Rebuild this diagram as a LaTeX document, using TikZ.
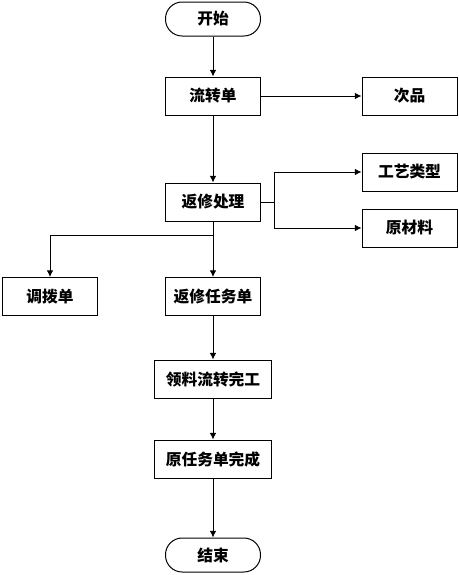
\documentclass[tikz,border=0pt]{standalone}
\usepackage{fontspec}
\setmainfont{Noto Sans CJK SC}
\usetikzlibrary{arrows.meta}
\begin{document}
\begin{tikzpicture}[x=0.75pt,y=-0.75pt,
  every node/.style={font=\fontsize{11.8pt}{13pt}\selectfont\bfseries, inner sep=0pt},
  box/.style={draw, line width=0.75pt, rectangle, minimum width=71.25pt, minimum height=28.5pt},
  wbox/.style={box, minimum width=87.75pt},
  term/.style={draw, line width=0.75pt, rectangle, rounded corners=12.5pt, minimum width=71.25pt, minimum height=25.5pt},
  conn/.style={line width=0.75pt, -{Latex[length=5pt,width=5pt]}},
  line/.style={line width=0.75pt}]
\useasboundingbox (0,0) rectangle (459,575);
\node[term] (start) at (213,19) {开始};
\node[box] (lzd) at (213,96) {流转单};
\node[box] (cp) at (409.5,96) {次品};
\node[box] (fxcl) at (213,202) {返修处理};
\node[box] (gylx) at (409.5,172) {工艺类型};
\node[box] (ycl) at (409.5,228) {原材料};
\node[box] (dbd) at (50,296.5) {调拨单};
\node[box] (fxrw) at (213,296.5) {返修任务单};
\node[wbox] (llwg) at (213,379) {领料流转完工};
\node[wbox] (yrwc) at (213,459) {原任务单完成};
\node[term] (end) at (213,555) {结束};
\coordinate (j1) at (274,202);
\coordinate (j2) at (213,235);
\draw[conn] (start) -- (lzd);
\draw[conn] (lzd) -- (cp);
\draw[conn] (lzd) -- (fxcl);
\draw[line] (fxcl.east) -- (j1);
\draw[conn] (j1) |- (gylx.west);
\draw[conn] (j1) |- (ycl.west);
\draw[conn] (fxcl) -- (fxrw);
\draw[conn] (j2) -| (dbd.north);
\draw[conn] (fxrw) -- (llwg);
\draw[conn] (llwg) -- (yrwc);
\draw[conn] (yrwc) -- (end);
\end{tikzpicture}
\end{document}
